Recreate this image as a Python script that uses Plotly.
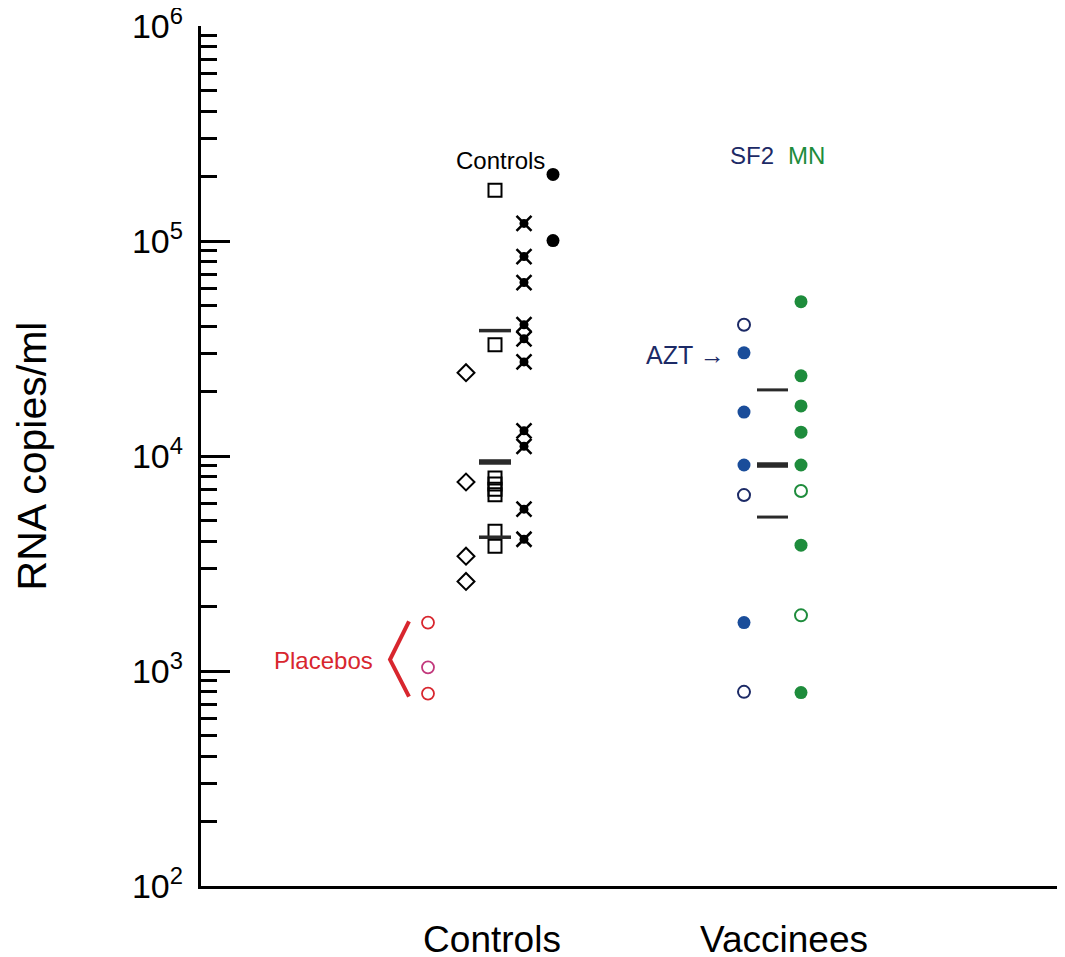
import plotly.graph_objects as go

# ---- data (RNA copies/ml) ----
placebo = [1680, 1040, 785]
placebo_colors = ["#d8262e", "#c2387c", "#d8262e"]
ctrl_diamond = [24400, 7570, 3420, 2610]
ctrl_square = [172000, 32900, 7900, 7400, 7000, 6600, 4470, 3800]
ctrl_cross = [120700, 84700, 64100, 40800, 35100, 27400, 13100, 11100, 5660, 4100]
ctrl_filled = [204000, 100500]
ctrl_medians = [38300, 9380, 4190]          # thin, thick, thin
sf2_filled = [30200, 16000, 9080, 1680]
sf2_open = [40800, 6580, 800]
mn_filled = [52200, 23600, 17100, 12900, 9080, 3850, 794]
mn_open = [6870, 1815]
vac_medians = [20300, 9080, 5200]           # thin, thick, thin
bracket_y = [1700, 1130, 760]

group_labels = ["Controls", "Vaccinees"]
ytick_vals = [1e2, 1e3, 1e4, 1e5, 1e6]
ytick_text = ["10<sup>2</sup>", "10<sup>3</sup>", "10<sup>4</sup>", "10<sup>5</sup>", "10<sup>6</sup>"]

# ---- column positions on the horizontal axis ----
X_PLACEBO, X_DIAMOND, X_SQUARE, X_CROSS, X_FILLED = 428, 466, 495, 524, 553
X_SF2, X_MN = 744, 801
X_CTRL_LABEL, X_VAC_LABEL = 492, 784
CTRL_BAR = (479, 511)
VAC_BAR = (757, 788)

RED = "#d8262e"
NAVY = "#1c2a66"
BLUE = "#1a4d9a"
GREEN = "#1e8c3c"
BAR = "#2a2a2a"
FONT = "Liberation Sans, Arial, Helvetica, sans-serif"

fig = go.Figure()

def col(x, n):
    return [x] * n

# placebos
fig.add_trace(go.Scatter(x=col(X_PLACEBO, len(placebo)), y=placebo, mode="markers",
                         marker=dict(symbol="circle-open", size=12, color=placebo_colors,
                                     line=dict(width=1.8, color=placebo_colors))))
# bracket
fig.add_trace(go.Scatter(x=[409, 390, 409], y=bracket_y, mode="lines",
                         line=dict(color=RED, width=4)))
# controls
fig.add_trace(go.Scatter(x=col(X_DIAMOND, len(ctrl_diamond)), y=ctrl_diamond, mode="markers",
                         marker=dict(symbol="diamond-open", size=13, color="black",
                                     line=dict(width=2, color="black"))))
fig.add_trace(go.Scatter(x=col(X_SQUARE, len(ctrl_square)), y=ctrl_square, mode="markers",
                         marker=dict(symbol="square-open", size=13, color="black",
                                     line=dict(width=2, color="black"))))
fig.add_trace(go.Scatter(x=col(X_CROSS, len(ctrl_cross)), y=ctrl_cross, mode="markers",
                         marker=dict(symbol="x-thin-open", size=15, color="black",
                                     line=dict(width=2.5, color="black"))))
fig.add_trace(go.Scatter(x=col(X_CROSS, len(ctrl_cross)), y=ctrl_cross, mode="markers",
                         marker=dict(symbol="circle", size=9, color="black", line=dict(width=0))))
fig.add_trace(go.Scatter(x=col(X_FILLED, len(ctrl_filled)), y=ctrl_filled, mode="markers",
                         marker=dict(symbol="circle", size=13, color="black", line=dict(width=0))))

# vaccinees
fig.add_trace(go.Scatter(x=col(X_SF2, len(sf2_filled)), y=sf2_filled, mode="markers",
                         marker=dict(symbol="circle", size=13, color=BLUE, line=dict(width=0))))
fig.add_trace(go.Scatter(x=col(X_SF2, len(sf2_open)), y=sf2_open, mode="markers",
                         marker=dict(symbol="circle-open", size=12, color=NAVY,
                                     line=dict(width=2, color=NAVY))))
fig.add_trace(go.Scatter(x=col(X_MN, len(mn_filled)), y=mn_filled, mode="markers",
                         marker=dict(symbol="circle", size=13, color=GREEN, line=dict(width=0))))
fig.add_trace(go.Scatter(x=col(X_MN, len(mn_open)), y=mn_open, mode="markers",
                         marker=dict(symbol="circle-open", size=12, color=GREEN,
                                     line=dict(width=2, color=GREEN))))

# median bars
def bars(xr, vals, widths):
    for v, w in zip(vals, widths):
        fig.add_trace(go.Scatter(x=list(xr), y=[v, v], mode="lines",
                                 line=dict(color=BAR, width=w)))

bars(CTRL_BAR, ctrl_medians, [3.5, 5.5, 3.5])
bars(VAC_BAR, vac_medians, [3, 5.5, 3])

# dummy trace for tick axis
fig.add_trace(go.Scatter(x=[None], y=[None], yaxis="y2"))

ann_font = dict(family=FONT, size=24)
annotations = [
    dict(x=500, y=160, text="Controls", font=dict(color="black", **ann_font)),
    dict(x=752, y=155, text="SF2", font=dict(color=NAVY, **ann_font)),
    dict(x=806, y=155, text="MN", font=dict(color=GREEN, **ann_font)),
    dict(x=685, y=355, text="AZT \u2192", font=dict(color=NAVY, family=FONT, size=25)),
    dict(x=323, y=660, text="Placebos", font=dict(color=RED, **ann_font)),
]
# convert pixel-ish label anchors to data coords
H_TOP, H_BOT = 26, 886
def py2log(py):
    return 2 + (H_BOT - py) / ((H_BOT - H_TOP) / 4)
for a in annotations:
    a["y"] = py2log(a["y"])
    a.update(xref="x", yref="y", showarrow=False, xanchor="center", yanchor="middle")

# page body has an 8px default margin; margins compensate for it
fig.update_layout(
    width=1065, height=957,
    margin=dict(l=193, r=10, t=18, b=79, autoexpand=False),
    paper_bgcolor="white", plot_bgcolor="white",
    showlegend=False,
    font=dict(family=FONT, color="black"),
    annotations=annotations,
    xaxis=dict(range=[201, 1063], showgrid=False, zeroline=False, automargin=False,
               showline=True, linecolor="black", linewidth=3,
               tickmode="array", tickvals=[X_CTRL_LABEL, X_VAC_LABEL], ticktext=group_labels,
               ticks="", tickfont=dict(size=37, family=FONT), ticklabelstandoff=19,
               ticklabeloverflow="allow"),
    yaxis=dict(type="log", range=[2, 6], showgrid=False, zeroline=False, automargin=False,
               showline=False, tickmode="array", tickvals=ytick_vals, ticktext=ytick_text,
               ticks="", tickfont=dict(size=34, family=FONT), ticklabelstandoff=17,
               ticklabeloverflow="allow",
               title=dict(text="RNA copies/ml", font=dict(size=41, family=FONT), standoff=72)),
    yaxis2=dict(type="log", range=[2, 6], overlaying="y", side="left", showgrid=False,
                zeroline=False, showline=True, linecolor="black", linewidth=3, automargin=False,
                tickmode="array", tickvals=[1e3, 1e4, 1e5], showticklabels=False,
                ticks="inside", ticklen=29, tickwidth=3, tickcolor="black",
                minor=dict(tickmode="array",
                           tickvals=[m * 10 ** e for e in range(2, 6) for m in range(2, 10)],
                           ticks="inside", ticklen=16, tickwidth=3, tickcolor="black")),
)

fig.write_html("out.html")
